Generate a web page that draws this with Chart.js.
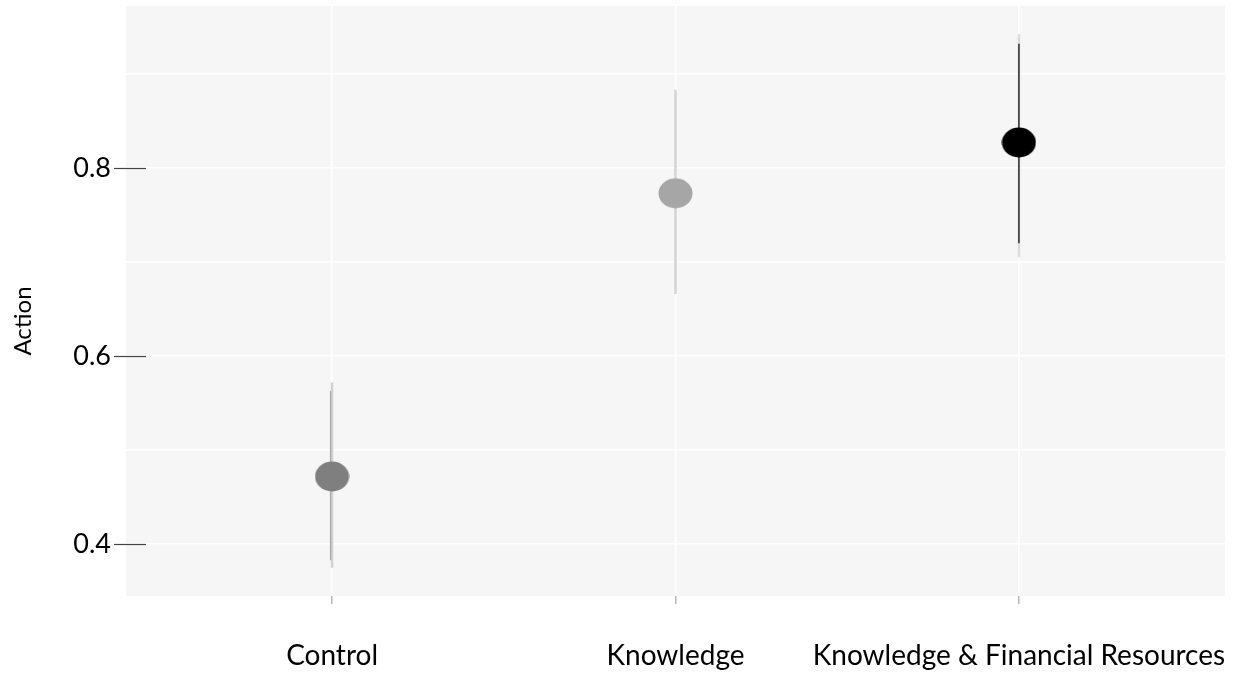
<!DOCTYPE html>
<html>
<head>
<meta charset="utf-8">
<script src="https://cdn.jsdelivr.net/npm/chart.js@4.4.1/dist/chart.umd.min.js"></script>
<style>
  html, body { margin: 0; padding: 0; background: #ffffff; }
  #wrap { width: 1234px; height: 674px; }
</style>
</head>
<body>
<div id="wrap"><canvas id="c" width="1234" height="674"></canvas></div>
<script>
// Group means of "Action" with their confidence intervals
const categories = ['Control', 'Knowledge', 'Knowledge & Financial Resources'];
const positions = [1, 2, 3];
const means = [0.472, 0.773, 0.827];
const outerLow = [0.375, 0.666, 0.705];
const outerHigh = [0.572, 0.883, 0.942];
const innerLow = [0.383, null, 0.72];
const innerHigh = [0.563, null, 0.932];
const yGridValues = [0.4, 0.5, 0.6, 0.7, 0.8, 0.9];
const yLabelValues = [0.4, 0.6, 0.8];
const yTitle = 'Action';

const pointColors = ['#7f7f7f', '#a6a6a6', '#000000'];
const outerColors = ['#d2d2d2', '#d4d4d4', '#dcdcdc'];
const innerColors = ['#a8a8a8', null, '#111111'];

function ellipseMarker(color) {
  const w = 35, h = 31;
  const cv = document.createElement('canvas');
  cv.width = w; cv.height = h;
  const g = cv.getContext('2d');
  g.fillStyle = color;
  g.beginPath();
  g.ellipse(w / 2, h / 2, w / 2 - 0.5, h / 2 - 0.5, 0, 0, Math.PI * 2);
  g.fill();
  return cv;
}
const markers = pointColors.map(ellipseMarker);

const FONT = 'Lato, "Open Sans", sans-serif';

// light panel behind the plot area
const panelBg = {
  id: 'panelBg',
  beforeDraw(chart) {
    const { ctx, chartArea: a } = chart;
    ctx.save();
    ctx.fillStyle = '#f6f6f6';
    ctx.fillRect(a.left, a.top, a.right - a.left, a.bottom - a.top);
    ctx.restore();
  }
};

// vertical interval lines for each group
const intervals = {
  id: 'intervals',
  beforeDatasetsDraw(chart) {
    const { ctx, scales: { x, y } } = chart;
    ctx.save();
    positions.forEach((p, i) => {
      const px = x.getPixelForValue(p);
      ctx.strokeStyle = outerColors[i];
      ctx.lineWidth = 2.5;
      ctx.beginPath();
      ctx.moveTo(px, y.getPixelForValue(outerHigh[i]));
      ctx.lineTo(px, y.getPixelForValue(outerLow[i]));
      ctx.stroke();
      if (innerLow[i] !== null) {
        const dx = i === 0 ? -1.5 : 0;
        ctx.strokeStyle = innerColors[i];
        ctx.lineWidth = 1.3;
        ctx.beginPath();
        ctx.moveTo(px + dx, y.getPixelForValue(innerHigh[i]));
        ctx.lineTo(px + dx, y.getPixelForValue(innerLow[i]));
        ctx.stroke();
      }
    });
    ctx.restore();
  }
};

// tick marks for the labelled y values, straddling the panel edge, plus the axis title
const yAxisDecor = {
  id: 'yAxisDecor',
  afterDatasetsDraw(chart) {
    const { ctx, chartArea: a, scales: { y } } = chart;
    ctx.save();
    ctx.strokeStyle = '#444444';
    ctx.lineWidth = 1.2;
    yLabelValues.forEach(v => {
      const py = Math.round(y.getPixelForValue(v)) + 0.5;
      ctx.beginPath();
      ctx.moveTo(a.left - 12, py);
      ctx.lineTo(a.left + 20, py);
      ctx.stroke();
    });
    ctx.translate(23, (a.top + a.bottom) / 2 + 20);
    ctx.rotate(-Math.PI / 2);
    ctx.fillStyle = '#000000';
    ctx.font = '24px ' + FONT;
    ctx.textAlign = 'center';
    ctx.textBaseline = 'middle';
    ctx.fillText(yTitle, 0, 0);
    ctx.restore();
  }
};

new Chart(document.getElementById('c'), {
  type: 'scatter',
  data: {
    datasets: [{
      label: yTitle,
      data: positions.map((p, i) => ({ x: p, y: means[i] })),
      pointStyle: markers,
      pointRadius: 17,
      pointHoverRadius: 17,
      backgroundColor: pointColors,
      borderColor: pointColors
    }]
  },
  options: {
    responsive: false,
    animation: false,
    layout: { autoPadding: false, padding: { top: 6, right: 9, left: 0, bottom: 0 } },
    plugins: {
      legend: { display: false },
      tooltip: { enabled: false }
    },
    scales: {
      x: {
        type: 'linear',
        min: 0.4,
        max: 3.6,
        afterBuildTicks(scale) { scale.ticks = positions.map(v => ({ value: v })); },
        afterFit(scale) {
          scale.height = 78;
          scale.paddingLeft = 0; scale.paddingRight = 0;
          scale.paddingTop = 0; scale.paddingBottom = 0;
        },
        border: { display: false },
        grid: {
          color: '#ffffff',
          lineWidth: 1.5,
          drawTicks: true,
          tickLength: 8,
          tickColor: '#b5b5b5',
          tickWidth: 1.5
        },
        ticks: {
          autoSkip: false,
          maxRotation: 0,
          padding: 35,
          color: '#000000',
          font: { family: FONT, size: 28 },
          callback(v) { const i = positions.indexOf(v); return i >= 0 ? categories[i] : ''; }
        }
      },
      y: {
        type: 'linear',
        min: 0.345,
        max: 0.972,
        afterBuildTicks(scale) { scale.ticks = yGridValues.map(v => ({ value: v })); },
        afterFit(scale) {
          scale.width = 126;
          scale.paddingLeft = 0; scale.paddingRight = 0;
          scale.paddingTop = 0; scale.paddingBottom = 0;
        },
        border: { display: false },
        grid: { color: '#ffffff', lineWidth: 1.5, drawTicks: false },
        ticks: {
          padding: 15,
          color: '#000000',
          font: { family: FONT, size: 27 },
          callback(v) {
            const r = Math.round(v * 10) / 10;
            return yLabelValues.some(l => Math.abs(l - r) < 1e-9) ? r.toFixed(1) : '';
          }
        }
      }
    }
  },
  plugins: [panelBg, intervals, yAxisDecor]
});
</script>
</body>
</html>
